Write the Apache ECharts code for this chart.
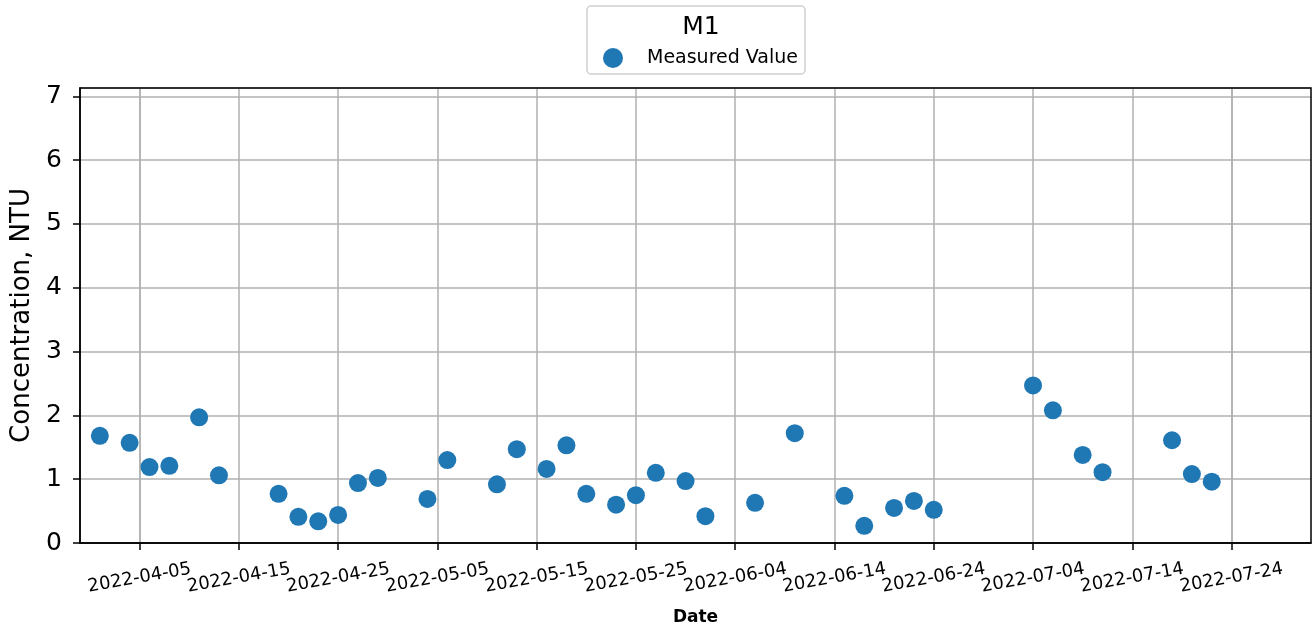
<!DOCTYPE html>
<html lang="en">
<head>
  <meta charset="UTF-8">
  <script src="https://cdn.jsdelivr.net/npm/echarts@6.0.0/dist/echarts.min.js"></script>
</head>
<body style="margin:0">
  <div id="chart" style="width:1314px;height:631px;"></div>
  <script type="text/javascript">
    // sample dates and measured turbidity values (NTU)
    var dates = [
      '2022-04-01', '2022-04-04', '2022-04-06', '2022-04-08', '2022-04-11', '2022-04-13',
      '2022-04-19', '2022-04-21', '2022-04-23', '2022-04-25', '2022-04-27', '2022-04-29',
      '2022-05-04', '2022-05-06', '2022-05-11', '2022-05-13', '2022-05-16', '2022-05-18',
      '2022-05-20', '2022-05-23', '2022-05-25', '2022-05-27', '2022-05-30', '2022-06-01',
      '2022-06-06', '2022-06-10', '2022-06-15', '2022-06-17', '2022-06-20', '2022-06-22',
      '2022-06-24', '2022-07-04', '2022-07-06', '2022-07-09', '2022-07-11', '2022-07-18',
      '2022-07-20', '2022-07-22'
    ];
    var values = [
      1.68, 1.57, 1.19, 1.21, 1.97, 1.06,
      0.77, 0.41, 0.34, 0.44, 0.94, 1.02,
      0.69, 1.30, 0.92, 1.47, 1.16, 1.53,
      0.77, 0.60, 0.75, 1.10, 0.97, 0.42,
      0.63, 1.72, 0.74, 0.27, 0.55, 0.66,
      0.52, 2.47, 2.08, 1.38, 1.11, 1.61,
      1.08, 0.96
    ];
    var tickDates = [
      '2022-04-05', '2022-04-15', '2022-04-25', '2022-05-05', '2022-05-15', '2022-05-25',
      '2022-06-04', '2022-06-14', '2022-06-24', '2022-07-04', '2022-07-14', '2022-07-24'
    ];

    function ts(s) {
      var p = s.split('-');
      return Date.UTC(+p[0], +p[1] - 1, +p[2]);
    }

    var font = 'DejaVu Sans';
    var chart = echarts.init(document.getElementById('chart'));
    var tickVals = tickDates.map(ts);

    chart.setOption({
      useUTC: true,
      animation: false,
      textStyle: { fontFamily: font },
      grid: { left: 80, right: 3, top: 88, bottom: 88, containLabel: false, outerBoundsMode: 'none' },
      graphic: [{
        type: 'rect',
        shape: { x: 587, y: 6, width: 218, height: 68, r: 4 },
        style: { fill: '#fff', stroke: '#d0d0d0', lineWidth: 1.5 },
        z: 0
      }, {
        type: 'rect',
        shape: { x: 80, y: 88, width: 1231, height: 455 },
        style: { fill: 'none', stroke: '#000', lineWidth: 1.5 },
        z: 100, silent: true
      }],
      title: {
        text: 'M1',
        left: 696, top: 10, textAlign: 'center',
        textStyle: { fontFamily: font, fontSize: 25, fontWeight: 'normal', color: '#000' }
      },
      legend: {
        left: 598, top: 43,
        itemWidth: 20, itemHeight: 20,
        textStyle: { fontFamily: font, fontSize: 19, color: '#000', padding: [0, 0, 0, 19] },
        data: [{ name: 'Measured Value', icon: 'circle' }]
      },
      xAxis: {
        type: 'time',
        min: ts('2022-03-30'),
        max: ts('2022-08-01'),
        name: 'Date',
        nameLocation: 'middle',
        nameGap: 66,
        nameTextStyle: { fontFamily: font, fontSize: 17, fontWeight: 'bold', color: '#000' },
        axisLine: { onZero: false, lineStyle: { color: '#000', width: 1.5 } },
        axisTick: { show: true, customValues: tickVals, length: 7, lineStyle: { color: '#000', width: 1.5 } },
        axisLabel: {
          customValues: tickVals,
          rotate: 10,
          align: 'center',
          verticalAlign: 'middle',
          margin: 35,
          fontFamily: font, fontSize: 18, color: '#000',
          formatter: '{yyyy}-{MM}-{dd}'
        },
        splitLine: { show: true, lineStyle: { color: '#b0b0b0', width: 1.5 } }
      },
      yAxis: {
        type: 'value',
        min: 0, max: 7.13, interval: 1,
        name: 'Concentration, NTU',
        nameLocation: 'middle',
        nameGap: 42,
        nameTextStyle: { fontFamily: font, fontSize: 26, color: '#000' },
        axisLine: { show: true, lineStyle: { color: '#000', width: 1.5 } },
        axisTick: { show: true, length: 7, lineStyle: { color: '#000', width: 1.5 } },
        axisLabel: { showMaxLabel: false, margin: 18, fontFamily: font, fontSize: 25, color: '#000' },
        splitLine: { show: true, lineStyle: { color: '#b0b0b0', width: 1.5 } }
      },
      series: [{
        name: 'Measured Value',
        type: 'scatter',
        symbolSize: 18,
        itemStyle: { color: '#1f77b4', opacity: 1 },
        data: dates.map(function (d, i) { return [ts(d), values[i]]; })
      }]
    });
  </script>
</body>
</html>
